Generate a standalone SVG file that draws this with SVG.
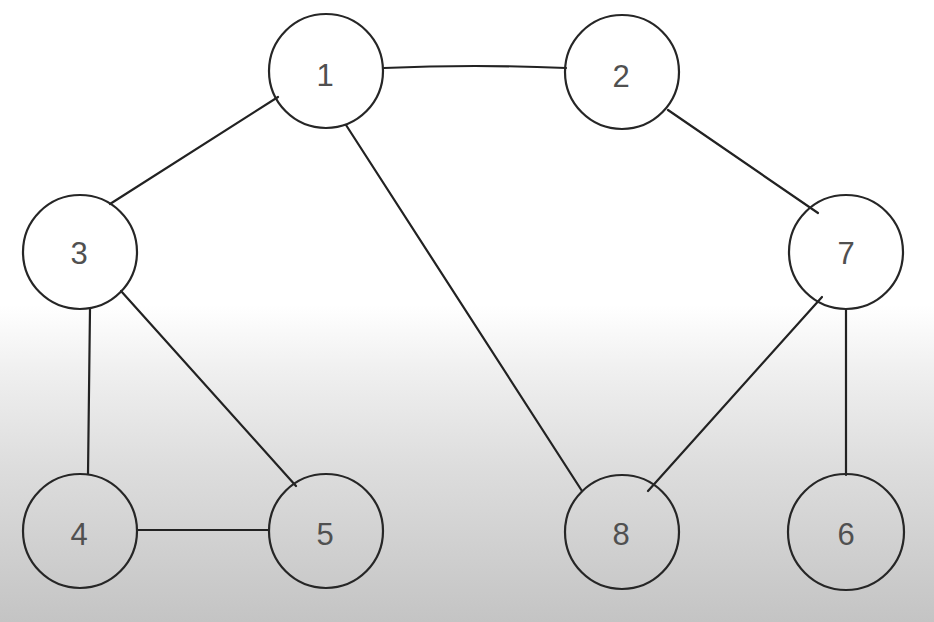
<svg xmlns="http://www.w3.org/2000/svg" width="934" height="622" viewBox="0 0 934 622">
<defs>
<linearGradient id="bg" x1="0" y1="0" x2="0" y2="622" gradientUnits="userSpaceOnUse">
<stop offset="0" stop-color="#ffffff"/>
<stop offset="0.49" stop-color="#ffffff"/>
<stop offset="0.6" stop-color="#efefef"/>
<stop offset="0.75" stop-color="#dddddd"/>
<stop offset="1" stop-color="#c4c4c4"/>
</linearGradient>
<style>
.n circle{fill:none;stroke:#262626;stroke-width:2.2}
.n text{font-family:"Liberation Sans",Arial,sans-serif;font-size:31px;fill:#505050;text-anchor:middle;dominant-baseline:central}
#edges line,#edges path{stroke:#222;stroke-width:2.2;fill:none;stroke-linecap:round}
</style>
</defs>
<rect width="934" height="622" fill="url(#bg)"/>
<g id="edges">
<path d="M384,68 Q475,64 566,68"/>
<line x1="278" y1="97" x2="110" y2="204"/>
<line x1="346" y1="125" x2="582" y2="491"/>
<line x1="668" y1="110" x2="818" y2="213"/>
<line x1="90" y1="309" x2="88" y2="474"/>
<line x1="121" y1="291" x2="296" y2="486"/>
<line x1="822" y1="297" x2="648" y2="491"/>
<line x1="846" y1="310" x2="846" y2="475"/>
<line x1="137" y1="530" x2="269" y2="530"/>
</g>
<g id="node1" class="n"><circle cx="326" cy="71" r="57"/><text x="325" y="75">1</text></g>
<g id="node2" class="n"><circle cx="622" cy="72" r="57"/><text x="621" y="76">2</text></g>
<g id="node3" class="n"><circle cx="80" cy="252" r="57"/><text x="79" y="253">3</text></g>
<g id="node7" class="n"><circle cx="846" cy="252" r="57"/><text x="846" y="253">7</text></g>
<g id="node4" class="n"><circle cx="80" cy="531" r="57"/><text x="79" y="534">4</text></g>
<g id="node5" class="n"><circle cx="326" cy="531" r="57"/><text x="325" y="534">5</text></g>
<g id="node8" class="n"><circle cx="622" cy="532" r="57"/><text x="621" y="534">8</text></g>
<g id="node6" class="n"><circle cx="846" cy="532" r="58"/><text x="846" y="534">6</text></g>
</svg>
